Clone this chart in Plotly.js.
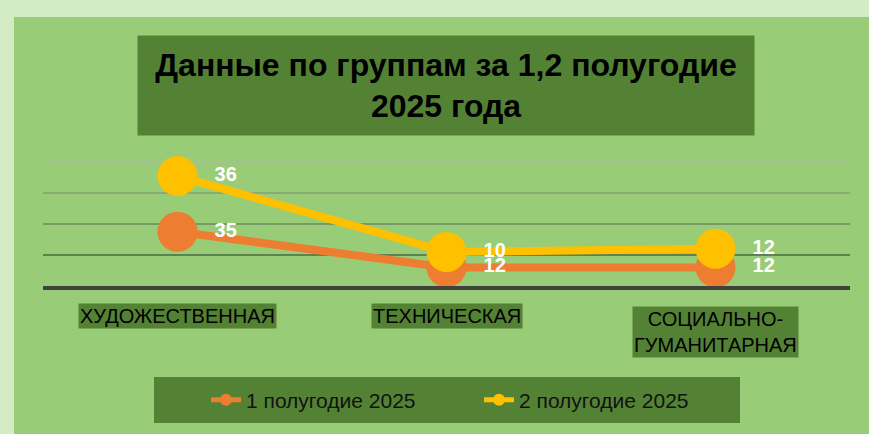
<!DOCTYPE html>
<html><head><meta charset="utf-8">
<script src="https://cdn.plot.ly/plotly-3.0.1.min.js"></script>
<style>html,body{margin:0;padding:0;background:#fff}</style>
</head><body>
<div id="chart" style="width:869px;height:434px"></div>
<script>
const categories = ['ХУДОЖЕСТВЕННАЯ', 'ТЕХНИЧЕСКАЯ', 'СОЦИАЛЬНО-<br>ГУМАНИТАРНАЯ'];
const half1 = [35, 12, 12];
const half2 = [36, 10, 12];
const seriesNames = ['1 полугодие 2025', '2 полугодие 2025'];
const titleText = 'Данные по группам за 1,2 полугодие<br>2025 года';
const gridValues = [20, 40, 60, 80];
const gridColors = ['#5F8350', '#779A66', '#89AA79', '#AABDA2'];

// stacked line chart: second series sits on top of the first
const half2Stacked = half2.map((v, i) => v + half1[i]);

const FONT = '"Liberation Sans", Arial, sans-serif';
const DARK = '#548235';
const BG = '#99CC77';
const PW = 807, PH = 124, ML = 43, MT = 162;
const px = x => (x - ML) / PW;          // pixel -> paper x
const py = y => (MT + PH - y) / PH;     // pixel -> paper y

const traces = [
  {x: categories, y: half1, name: seriesNames[0], type: 'scatter', mode: 'lines+markers+text',
   line: {color: '#ED7D31', width: 8}, marker: {color: '#ED7D31', size: 40}, cliponaxis: false,
   text: half1.map(String), texttemplate: '\u00a0\u00a0%{text}', textposition: 'middle right',
   textfont: {color: '#FFFFFF', size: 20, family: FONT, weight: 'bold'}, hoverinfo: 'skip'},
  {x: categories, y: half2Stacked, name: seriesNames[1], type: 'scatter', mode: 'lines+markers+text',
   line: {color: '#FFC000', width: 8}, marker: {color: '#FFC000', size: 40}, cliponaxis: false,
   text: half2.map(String), texttemplate: '\u00a0\u00a0%{text}', textposition: 'middle right',
   textfont: {color: '#FFFFFF', size: 20, family: FONT, weight: 'bold'}, hoverinfo: 'skip'}
];

const annotations = [
  {xref: 'paper', yref: 'paper', x: px(446), y: py(85), xanchor: 'center', yanchor: 'middle',
   text: titleText, showarrow: false, bgcolor: DARK, width: 616, height: 99, borderpad: 0,
   font: {family: FONT, size: 32, color: '#000', weight: 'bold'}}
];
const labelY = [py(316), py(316), py(331.5)];
categories.forEach((c, i) => {
  annotations.push({xref: 'x', yref: 'paper', x: c, y: labelY[i], xanchor: 'center', yanchor: 'middle',
    text: c, showarrow: false, bgcolor: DARK, borderpad: 1,
    font: {family: FONT, size: 20, color: '#000'}});
});

const shapes = [
  // soft light frame at the top and left edges
  {type: 'rect', xref: 'paper', yref: 'paper', layer: 'below', line: {width: 0}, fillcolor: '#D3ECC5',
   x0: px(0), x1: px(869), y0: py(17), y1: py(0)},
  {type: 'rect', xref: 'paper', yref: 'paper', layer: 'below', line: {width: 0}, fillcolor: '#D3ECC5',
   x0: px(0), x1: px(14), y0: py(434), y1: py(0)},
  // legend panel
  {type: 'rect', xref: 'paper', yref: 'paper', layer: 'below', line: {width: 0}, fillcolor: DARK,
   x0: px(154), x1: px(740), y0: py(423), y1: py(377)}
];
gridValues.forEach((v, i) => {
  shapes.push({type: 'line', xref: 'paper', yref: 'y', x0: 0, x1: 1, y0: v, y1: v, layer: 'below',
    line: {color: gridColors[i], width: i === 3 ? 1.5 : 2}});
});

const layout = {
  width: 869, height: 434,
  margin: {l: ML, r: 19, t: MT, b: 148},
  paper_bgcolor: BG, plot_bgcolor: 'rgba(0,0,0,0)',
  font: {family: FONT},
  showlegend: true,
  legend: {orientation: 'h', x: px(206), xanchor: 'left', y: py(400), yanchor: 'middle',
    bgcolor: 'rgba(0,0,0,0)', borderwidth: 0,
    font: {family: FONT, size: 21, color: '#111'}, itemsizing: 'constant',
    entrywidth: 228},
  xaxis: {type: 'category', range: [-0.5, 2.5], showticklabels: false, showgrid: false,
    zeroline: false, showline: true, linecolor: '#404040', linewidth: 4, ticks: ''},
  yaxis: {range: [0, 80], showticklabels: false, showgrid: false, zeroline: false, ticks: ''},
  annotations: annotations,
  shapes: shapes
};

Plotly.newPlot('chart', traces, layout, {displayModeBar: false, staticPlot: true});
</script>
</body></html>
